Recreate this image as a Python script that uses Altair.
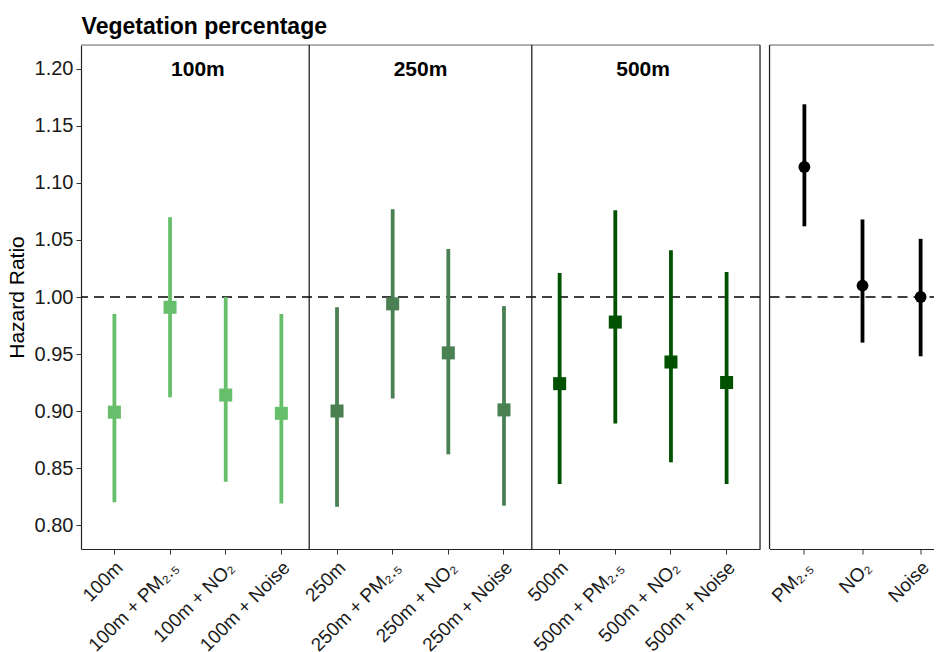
import altair as alt
import pandas as pd

# ---- data ----
cats_a = ["100m", "100m + PM₂.₅", "100m + NO₂", "100m + Noise",
          "250m", "250m + PM₂.₅", "250m + NO₂", "250m + Noise",
          "500m", "500m + PM₂.₅", "500m + NO₂", "500m + Noise"]
groups_a = ["100m"] * 4 + ["250m"] * 4 + ["500m"] * 4
hr_a = [0.899, 0.991, 0.914, 0.898, 0.900, 0.994, 0.951, 0.901, 0.924, 0.978, 0.943, 0.925]
lo_a = [0.820, 0.912, 0.838, 0.819, 0.816, 0.911, 0.862, 0.817, 0.836, 0.889, 0.855, 0.836]
hi_a = [0.985, 1.070, 1.000, 0.985, 0.991, 1.077, 1.042, 0.992, 1.021, 1.076, 1.041, 1.022]

cats_b = ["PM₂.₅", "NO₂", "Noise"]
hr_b = [1.114, 1.010, 1.000]
lo_b = [1.062, 0.960, 0.948]
hi_b = [1.169, 1.068, 1.051]

group_names = ["100m", "250m", "500m"]
group_colors = ["#67bf6c", "#4a8052", "#005200"]
label_anchor = ["100m + NO₂", "250m + NO₂", "500m + NO₂"]
separators = ["250m", "500m"]
y_ticks = [0.80, 0.85, 0.90, 0.95, 1.00, 1.05, 1.10, 1.15, 1.20]
ref_line = [1.0]

FONT = "Liberation Sans"
WA, WB, H = 679, 186, 504
LEFT, TOP = 73, 37
TOTAL_W, TOTAL_H = 926, 644

df_a = pd.DataFrame({"cat": cats_a, "group": groups_a, "hr": hr_a, "lo": lo_a, "hi": hi_a})
df_b = pd.DataFrame({"cat": cats_b, "hr": hr_b, "lo": lo_b, "hi": hi_b})
df_lab = pd.DataFrame({"cat": label_anchor, "text": group_names})
df_sep = pd.DataFrame({"cat": separators})
df_ref = pd.DataFrame({"v": ref_line})

yscale = alt.Scale(domain=[0.779, 1.221], nice=False, zero=False)


def x_axis(domain=True):
    return alt.Axis(title=None, labelAngle=-45, labelAlign="right", labelBaseline="top",
                    labelFontSize=19, labelFont=FONT, labelColor="#1a1a1a", labelPadding=4,
                    labelOffset=-1, tickSize=5, tickColor="#333333", domain=domain,
                    domainColor="#222222", domainWidth=1.2, grid=False, bandPosition=0.5,
                    labelLimit=300)


xaxis = x_axis()
xscale_a = alt.Scale(domain=cats_a, paddingInner=0, paddingOuter=0.1)
color = alt.Color("group:N", scale=alt.Scale(domain=group_names, range=group_colors), legend=None)

base_a = alt.Chart(df_a)

ref_a = alt.Chart(df_ref).mark_rule(color="#000000", strokeDash=[10, 6], strokeWidth=1.4).encode(
    y=alt.Y("v:Q", scale=yscale))
top_a = alt.Chart(df_ref).mark_rule(color="#9a9a9a", strokeWidth=1.5).encode(y=alt.value(0))
right_a = alt.Chart(df_ref).mark_rule(color="#222222", strokeWidth=1.2).encode(x=alt.value(WA))
sep_a = alt.Chart(df_sep).mark_rule(color="#111111", strokeWidth=1.2).encode(
    x=alt.X("cat:N", scale=xscale_a, bandPosition=0, axis=xaxis))
bars_a = base_a.mark_rule(strokeWidth=3.8).encode(
    x=alt.X("cat:N", scale=xscale_a, axis=xaxis, sort=cats_a),
    y=alt.Y("lo:Q", scale=yscale,
            axis=alt.Axis(title="Hazard Ratio", values=y_ticks, format=".2f", grid=False,
                          labelFontSize=20, labelFont=FONT, labelColor="#1a1a1a",
                          titleFontSize=21, titleFont=FONT, titleFontWeight="normal",
                          titleColor="#000000", titlePadding=7, tickSize=5,
                          tickColor="#333333", domainColor="#222222", domainWidth=1.2,
                          labelPadding=3)),
    y2="hi:Q",
    color=color)
pts_a = base_a.mark_square(size=170, opacity=1).encode(
    x=alt.X("cat:N", scale=xscale_a, axis=xaxis, sort=cats_a),
    y=alt.Y("hr:Q", scale=yscale),
    color=color)
labs_a = alt.Chart(df_lab).mark_text(fontSize=21, fontWeight="bold", font=FONT,
                                     align="center", baseline="middle", dy=1,
                                     color="#000000").encode(
    x=alt.X("cat:N", scale=xscale_a, bandPosition=0, axis=xaxis),
    y=alt.datum(1.2),
    text="text:N")

panel_a = alt.layer(ref_a, top_a, right_a, sep_a, bars_a, pts_a, labs_a).properties(
    width=WA, height=H)

xscale_b = alt.Scale(domain=cats_b, paddingInner=0, paddingOuter=0.1)
xaxis_b = x_axis(domain=True)
ref_b = alt.Chart(df_ref).mark_rule(color="#000000", strokeDash=[10, 6], strokeWidth=1.4).encode(
    y=alt.Y("v:Q", scale=yscale, axis=None))
top_b = alt.Chart(df_ref).mark_rule(color="#9a9a9a", strokeWidth=1.5).encode(y=alt.value(0))
left_b = alt.Chart(df_ref).mark_rule(color="#222222", strokeWidth=1.2).encode(x=alt.value(0))
base_b = alt.Chart(df_b)
bars_b = base_b.mark_rule(strokeWidth=3.8, color="#000000").encode(
    x=alt.X("cat:N", scale=xscale_b, axis=xaxis_b, sort=cats_b),
    y=alt.Y("lo:Q", scale=yscale, axis=None),
    y2="hi:Q")
pts_b = base_b.mark_circle(size=140, opacity=1, color="#000000").encode(
    x=alt.X("cat:N", scale=xscale_b, axis=xaxis_b, sort=cats_b),
    y=alt.Y("hr:Q", scale=yscale, axis=None))
panel_b = alt.layer(ref_b, top_b, left_b, bars_b, pts_b).properties(width=WB, height=H)

chart = alt.hconcat(panel_a, panel_b, spacing=5.5).properties(
    title=alt.TitleParams("Vegetation percentage", anchor="start", fontSize=23,
                          fontWeight="bold", font=FONT, color="#000000", offset=5, dx=76),
    autosize=alt.AutoSizeParams(type="none"),
    padding={"left": LEFT, "top": TOP, "right": TOTAL_W - LEFT, "bottom": TOTAL_H - TOP},
).configure_view(stroke=None).configure(background="white")

chart.save("out.html", embed_options={"renderer": "svg", "actions": False})
